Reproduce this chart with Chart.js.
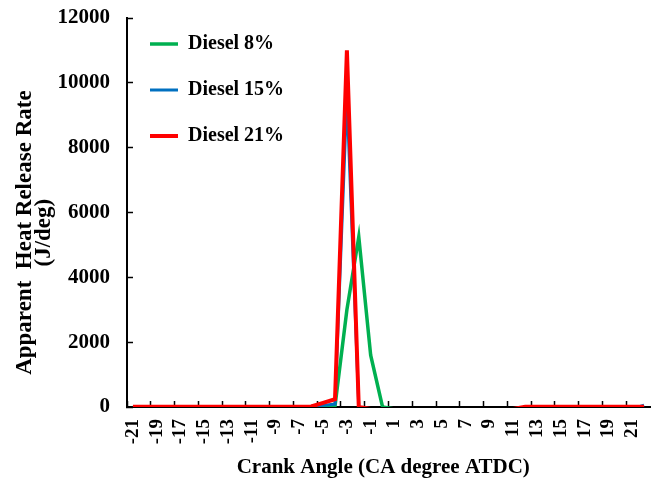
<!DOCTYPE html>
<html>
<head>
<meta charset="utf-8">
<script src="https://cdn.jsdelivr.net/npm/chart.js@4.4.1/dist/chart.umd.min.js"></script>
<style>
  html, body { margin: 0; padding: 0; background: #ffffff; }
  #wrap { width: 656px; height: 484px; position: relative; }
</style>
</head>
<body>
<div id="wrap"><canvas id="c"></canvas></div>
<script>
// ---- data ----
const crankAngles = [-21,-20,-19,-18,-17,-16,-15,-14,-13,-12,-11,-10,-9,-8,-7,-6,-5,-4,-3,-2,-1,0,
                     1,2,3,4,5,6,7,8,9,10,11,12,13,14,15,16,17,18,19,20,21,22];

const seriesNames = ['Diesel 8%', 'Diesel 15%', 'Diesel 21%'];

const diesel8 = [0,0,0,0,0,0,0,0,0,0,0,0,0,0,0,0,10,30,3000,5250,1600,0,
                 -60,-60,-60,-60,-60,-60,-60,-60,-60,-60,-60,-60,-60,-60,-60,-60,-60,-60,-60,-60,-60,-60];

const diesel15 = [5,5,5,5,5,5,5,5,5,5,5,5,5,5,10,20,50,90,9600,0,-60,-60,
                  -60,-60,-60,-60,-60,-60,-60,-60,-60,-60,-60,-60,-60,-60,-60,-60,-60,-60,-60,-60,-60,60];

const diesel21 = [10,10,10,10,10,10,10,10,10,10,10,10,10,10,10,15,130,240,11000,0,-60,-60,
                  -60,-60,-60,-60,-60,-60,-60,-60,-60,-60,-60,10,10,10,10,10,10,10,10,10,10,10];

const yTicks = [0, 2000, 4000, 6000, 8000, 10000, 12000];

// ---- styling ----
const FONT = "'Liberation Serif', 'Times New Roman', serif";
const colors = ['#00B050', '#0070C0', '#FF0000'];

// vertical legend inside the plot area: place its top a little above the plot top
const legendPlace = {
  id: 'legendPlace',
  afterLayout(chart) {
    const l = chart.legend;
    if (l) {
      l.top = chart.chartArea.top - 10;
      l.bottom = l.top + l.height;
      l.left = chart.chartArea.left - 3;
      l.right = l.left + l.width;
    }
  }
};

const noPad = s => { s.paddingTop = 0; s.paddingBottom = 0; s.paddingLeft = 0; s.paddingRight = 0; };

const ctx = document.getElementById('c');
new Chart(ctx, {
  type: 'line',
  data: {
    labels: crankAngles.map(String),
    datasets: [
      { label: seriesNames[0], data: diesel8, borderColor: colors[0], backgroundColor: colors[0], borderWidth: 3.5, order: 3 },
      { label: seriesNames[1], data: diesel15, borderColor: colors[1], backgroundColor: colors[1], borderWidth: 3, order: 2 },
      { label: seriesNames[2], data: diesel21, borderColor: colors[2], backgroundColor: colors[2], borderWidth: 4, order: 1 }
    ].map(d => Object.assign(d, { pointRadius: 0, tension: 0, fill: false, clip: 0 }))
  },
  options: {
    responsive: true,
    maintainAspectRatio: false,
    animation: false,
    layout: { padding: { left: 0, top: 18, right: 6, bottom: 0 } },
    plugins: {
      tooltip: { enabled: false },
      legend: {
        position: 'chartArea',
        align: 'start',
        labels: {
          font: { family: FONT, size: 20, weight: 'bold' },
          color: '#000000',
          usePointStyle: true,
          pointStyle: 'line',
          pointStyleWidth: 28,
          padding: 26,
          sort: (a, b) => a.datasetIndex - b.datasetIndex
        }
      }
    },
    scales: {
      x: {
        type: 'category',
        offset: true,
        afterFit: s => { s.height = 77; noPad(s); },
        border: { display: true, color: '#000000', width: 2 },
        grid: {
          display: true,
          offset: true,
          drawOnChartArea: false,
          drawTicks: true,
          tickLength: -6,
          tickWidth: 1.5,
          tickColor: c => (c.index !== undefined && c.index % 2 === 0) ? '#000000' : 'rgba(0,0,0,0)'
        },
        ticks: {
          autoSkip: false,
          maxRotation: 90,
          minRotation: 90,
          padding: 18,
          color: '#000000',
          font: { family: FONT, size: 19, weight: 'bold' },
          callback: function (v, i) { return i % 2 === 0 ? String(crankAngles[i]) : ''; }
        },
        title: {
          display: true,
          text: 'Crank Angle (CA degree ATDC)  ',
          color: '#000000',
          font: { family: FONT, size: 21, weight: 'bold', lineHeight: 1.2 },
          padding: { top: 0, bottom: 4 }
        }
      },
      y: {
        min: yTicks[0],
        max: yTicks[yTicks.length - 1],
        afterFit: s => { s.width = 127; noPad(s); },
        afterBuildTicks: s => { s.ticks = yTicks.map(v => ({ value: v })); },
        border: { display: true, color: '#000000', width: 2 },
        grid: {
          display: true,
          drawOnChartArea: false,
          drawTicks: true,
          tickLength: -6,
          tickWidth: 1.5,
          tickColor: '#000000'
        },
        ticks: {
          padding: 23,
          color: '#000000',
          font: { family: FONT, size: 21, weight: 'bold' },
          callback: v => String(v)
        },
        title: {
          display: true,
          text: ['Apparent  Heat Release Rate       ', '(J/deg)       '],
          color: '#000000',
          font: { family: FONT, size: 23, weight: 'bold', lineHeight: 0.8 },
          padding: { top: 16, bottom: 0 }
        }
      }
    }
  },
  plugins: [legendPlace]
});
</script>
</body>
</html>
